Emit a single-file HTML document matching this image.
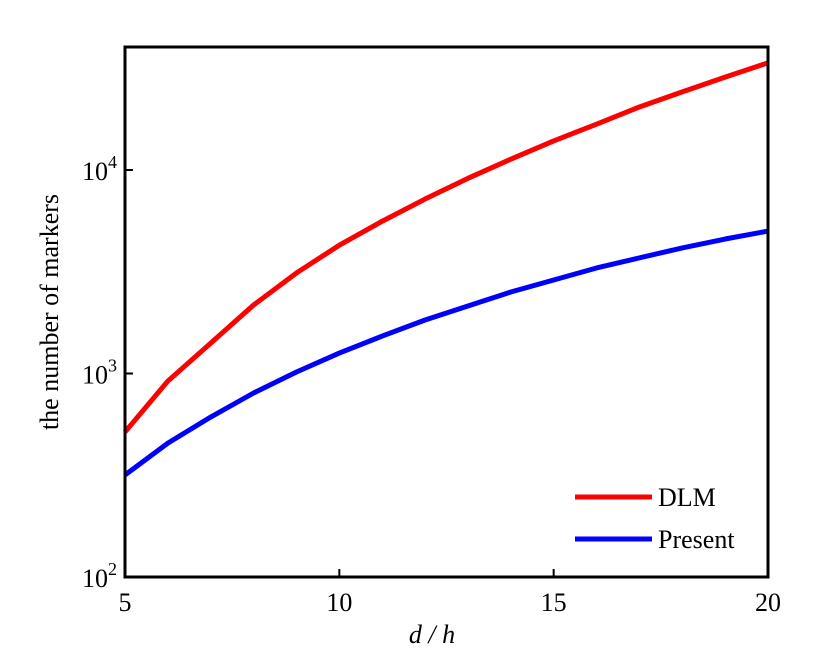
<!DOCTYPE html>
<html><head><meta charset="utf-8"><style>
body{margin:0;background:#fff;}
svg{display:block;font-family:"Liberation Serif",serif;}
</style></head><body>
<svg id="chart" width="819" height="670"></svg>
<script>
const xValues=[5,6,7,8,9,10,11,12,13,14,15,16,17,18,19,20];
const dlmValues=[516,918,1410,2170,3120,4270,5600,7200,9100,11300,13900,16800,20400,24200,28600,33600];
const presentValues=[317,455,611,802,1017,1260,1527,1832,2146,2515,2880,3300,3700,4140,4580,5010];
const xTicks=[5,10,15,20];
const yTicks=[2,3,4];
const L=125,R=768,T=47,B=577;
const xMin=5,xMax=20,yLogMin=2,decadePx=203.5;
const sx=v=>L+(v-xMin)/(xMax-xMin)*(R-L);
const sy=v=>B-(Math.log10(v)-yLogMin)*decadePx;
const NS="http://www.w3.org/2000/svg";
const svg=document.getElementById('chart');
function mk(tag,attrs,parent){const e=document.createElementNS(NS,tag);for(const k in attrs)e.setAttribute(k,attrs[k]);(parent||svg).appendChild(e);return e;}
function series(vals,color,name){
  const p=mk('polyline',{points:xValues.map((x,i)=>sx(x)+','+sy(vals[i])).join(' '),fill:'none',stroke:color,'stroke-width':5,'stroke-linejoin':'round'});
  
  
}
const clip=mk('clipPath',{id:'c'});mk('rect',{x:L,y:T,width:R-L,height:B-T},clip);
series(dlmValues,'#ff0000','dlm-line');
series(presentValues,'#0000ff','present-line');
const frame=mk('rect',{x:L,y:T,width:R-L,height:B-T,fill:'none',stroke:'#000','stroke-width':3});


xTicks.forEach(t=>{
  const x=sx(t);
  const tk=mk('line',{x1:x,x2:x,y1:B,y2:B-8,stroke:'#000','stroke-width':2});
  
  
  const lb=mk('text',{x:x,y:B+34,'text-anchor':'middle','font-size':26});
  lb.textContent=t;
  
  
});
yTicks.forEach(t=>{
  const y=B-(t-yLogMin)*decadePx;
  const tk=mk('line',{x1:L,x2:L+8,y1:y,y2:y,stroke:'#000','stroke-width':2});
  
  
  const lb=mk('text',{x:L-8,y:y+10,'text-anchor':'end','font-size':26});
  lb.textContent='10';
  const sup=mk('tspan',{dy:-12,'font-size':18},lb);sup.textContent=t;
  
  
});
</script>
<svg style="position:absolute;left:0;top:0" width="819" height="670">
<text x="432" y="643" text-anchor="middle" font-size="26" font-style="italic" font-family="Liberation Serif,serif">d / h</text>
<text transform="translate(58,312) rotate(-90)" text-anchor="middle" font-size="26" font-family="Liberation Serif,serif">the number of markers</text>
<g>
<line x1="575" x2="652" y1="497" y2="497" stroke="#ff0000" stroke-width="5"/>
<text x="658" y="506" font-size="26" font-family="Liberation Serif,serif">DLM</text>
<line x1="575" x2="652" y1="539" y2="539" stroke="#0000ff" stroke-width="5"/>
<text x="658" y="548" font-size="26" font-family="Liberation Serif,serif">Present</text>
</g>
</svg>
</body></html>
